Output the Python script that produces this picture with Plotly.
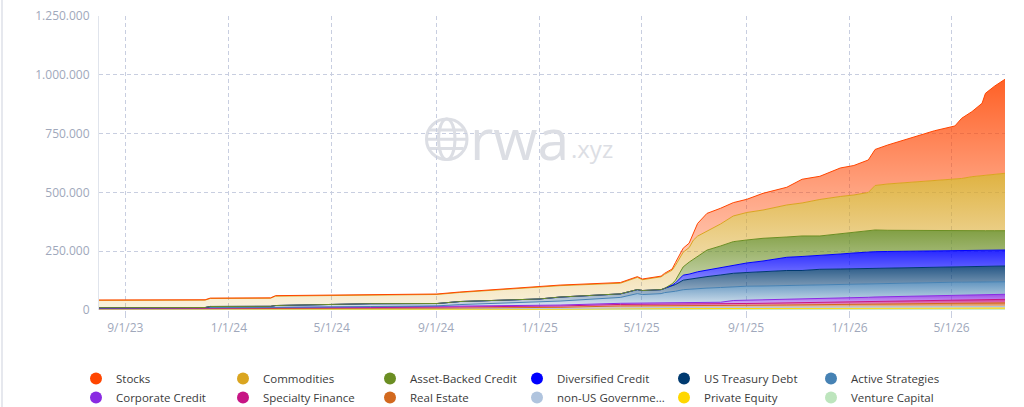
import plotly.graph_objects as go

# ---------------- data (values in thousands) ----------------
dates = [
    "2023-08-01", "2023-12-04", "2023-12-10", "2024-02-19", "2024-02-25", "2024-06-16",
    "2024-09-02", "2024-09-29", "2025-01-01", "2025-01-25", "2025-04-06", "2025-04-26",
    "2025-05-02", "2025-05-24", "2025-05-28", "2025-06-06", "2025-06-10", "2025-06-19",
    "2025-06-26", "2025-07-01", "2025-07-06", "2025-07-17", "2025-08-02", "2025-08-17",
    "2025-09-02", "2025-09-21", "2025-10-19", "2025-11-06", "2025-11-27", "2025-12-21",
    "2026-01-06", "2026-01-23", "2026-01-31", "2026-02-15", "2026-03-06", "2026-03-23",
    "2026-04-11", "2026-05-05", "2026-05-13", "2026-05-25", "2026-06-06", "2026-06-10",
    "2026-06-21", "2026-07-03",
]

stocks = [1.5, 1.5, 1.5, 1.5, 2.0, 2.0, 2.0, 2.0, 2.5, 2.5,
          3.0, 3.0, 3.0, 3.0, 4.3, 5.0,
          12.0, 17.0, 19.0, 28.5, 54.0, 75.3, 66.8, 56.6, 56.1, 71.0,
          75.3, 100.8, 98.6, 121.2, 125.4, 138.2, 153.1, 165.8, 181.6, 197.7,
          209.6, 225.4, 256.0, 276.4, 307.0, 347.4, 374.2, 399.7]
commodities = [31.0, 31.5, 34.0, 34.5, 40.0, 38.0, 38.5, 38.5, 48.3, 48.5,
               45.3, 52.0, 46.0, 54.4, 59.5, 58.0,
               63.8, 62.5, 61.7, 80.8, 85.0, 80.8, 93.5, 109.3, 116.9, 120.3,
               136.1, 140.3, 155.2, 159.5, 160.3, 163.7, 189.2, 196.9, 203.2, 208.3,
               215.6, 219.8, 222.0, 229.6, 234.7, 236.8, 241.1, 244.1]
asset_backed = [0, 0, 0, 0, 0, 0, 0, 0, 0, 0, 0, 0, 0, 0, 0, 6.0,
                11.5, 35.3, 51.0, 57.4, 66.8, 85.0, 91.4, 99.1, 97.8, 96.5,
                86.3, 87.2, 80.8, 85.0, 86.3, 89.3, 92.3, 90.1, 88.0, 87.2,
                85.5, 84.2, 84.2, 83.3, 82.9, 82.9, 82.1, 82.1]
diversified = [0, 0, 0, 0, 0, 0, 0, 0, 0, 0, 0, 0, 0, 0, 0, 4.0,
               6.8, 21.3, 21.3, 25.5, 28.1, 27.6, 31.9, 35.3, 40.4, 44.6,
               56.1, 59.5, 60.8, 63.8, 67.2, 69.3, 70.6, 70.2, 70.2, 69.3,
               68.9, 68.9, 68.0, 68.0, 68.0, 68.0, 68.0, 68.0]
us_treasury = [1.0, 1.2, 4.7, 5.0, 7.5, 12.0, 10.0, 13.0, 14.0, 17.0,
               15.0, 17.0, 17.0, 17.0, 18.0, 24.0,
               28.5, 40.4, 42.5, 44.6, 43.4, 48.9, 53.2, 57.0, 58.3, 61.7,
               63.8, 63.8, 66.8, 65.9, 64.6, 64.6, 63.8, 64.6, 65.1, 65.5,
               65.9, 65.9, 66.8, 66.8, 66.3, 66.3, 66.8, 66.8]
active = [0.8, 0.8, 0.8, 0.8, 1.0, 2.0, 2.5, 7.0, 13.0, 17.0,
          25.0, 41.0, 37.0, 40.5, 44.5, 47.5,
          50.0, 56.0, 58.0, 58.0, 59.6, 61.3, 62.7, 58.7, 59.6, 59.5,
          60.0, 58.7, 58.7, 58.2, 58.7, 58.7, 58.2, 57.5, 56.6, 56.6,
          55.3, 55.3, 54.4, 54.5, 54.4, 54.0, 54.0, 53.5]
corporate = [1.3, 1.4, 1.4, 1.5, 1.5, 2.5, 2.7, 3.0, 3.7, 4.0,
             4.8, 4.9, 4.9, 5.0, 5.0, 5.1, 5.2, 5.3, 5.4, 5.5,
             5.6, 5.8, 6.7, 13.5, 13.9, 13.9, 14.2, 14.5, 15.1, 16.0,
             16.4, 17.2, 17.6, 17.9, 18.7, 19.0, 19.6, 20.1, 20.5, 20.7,
             21.1, 21.1, 21.2, 21.5]
specialty = [2.1, 2.2, 2.5, 2.6, 2.9, 3.5, 4.4, 4.6, 5.5, 5.7,
             6.5, 6.6, 6.6, 6.7, 6.7, 6.8, 6.8, 6.9, 7.0, 7.0,
             7.1, 7.2, 7.3, 7.5, 7.8, 8.1, 8.6, 9.0, 9.6, 10.3,
             10.8, 11.3, 11.7, 12.0, 12.4, 12.8, 13.3, 13.7, 14.0, 14.2,
             14.4, 14.5, 14.7, 14.8]
real_estate = [1.7, 1.8, 2.2, 2.3, 2.5, 3.0, 3.5, 3.7, 4.5, 4.7,
               7.0, 7.1, 7.1, 7.2, 7.2, 7.3, 7.3, 7.4, 7.5, 7.5,
               7.6, 7.7, 7.8, 8.0, 8.4, 8.8, 9.4, 9.8, 10.4, 11.2,
               11.7, 12.3, 12.7, 13.0, 13.4, 13.7, 14.3, 14.6, 14.8, 15.0,
               15.2, 15.3, 15.4, 15.5]
non_us_gov = [1.7, 1.7, 1.8, 1.8, 1.9, 2.0, 2.2, 2.3, 3.0, 3.1,
              4.7, 4.7, 4.7, 4.7, 4.8, 4.8, 4.8, 4.9, 4.9, 4.9,
              4.9, 5.0, 5.0, 5.0, 5.1, 5.2, 5.3, 5.4, 5.5, 5.6,
              5.7, 5.8, 5.9, 6.0, 6.0, 6.1, 6.2, 6.3, 6.3, 6.4,
              6.4, 6.5, 6.5, 6.5]
private_equity = [0.8, 0.8, 0.9, 0.9, 1.0, 1.0, 1.2, 1.3, 1.8, 1.9,
                  3.5, 3.5, 3.5, 3.5, 3.6, 3.6, 3.6, 3.6, 3.6, 3.7,
                  3.7, 3.7, 3.7, 3.8, 3.8, 3.8, 3.9, 3.9, 4.0, 4.0,
                  4.1, 4.1, 4.1, 4.2, 4.2, 4.3, 4.3, 4.4, 4.4, 4.4,
                  4.5, 4.5, 4.5, 4.5]
venture = [0.6, 0.6, 0.7, 0.7, 0.7, 0.8, 1.0, 1.1, 1.5, 1.6,
           2.0, 2.0, 2.0, 2.1, 2.1, 2.2, 2.2, 2.3, 2.3, 2.3,
           2.4, 2.4, 2.5, 2.6, 2.6, 2.7, 2.8, 2.9, 3.0, 3.1,
           3.2, 3.3, 3.3, 3.4, 3.5, 3.6, 3.7, 3.8, 3.8, 3.9,
           3.9, 4.0, 4.0, 4.0]

# legend order (top of stack first)
series_names = ["Stocks", "Commodities", "Asset-Backed Credit", "Diversified Credit",
                "US Treasury Debt", "Active Strategies", "Corporate Credit",
                "Specialty Finance", "Real Estate", "non-US Governme...",
                "Private Equity", "Venture Capital"]
series_values = [stocks, commodities, asset_backed, diversified, us_treasury, active,
                 corporate, specialty, real_estate, non_us_gov, private_equity, venture]
series_colors = ["#FF4500", "#DAA520", "#6B8E23", "#0000FF", "#003A70", "#4682B4",
                 "#8A2BE2", "#C71585", "#D2691E", "#B0C4DE", "#FFD700", "#BDE5BD"]

tick_dates = ["2023-09-01", "2024-01-01", "2024-05-01", "2024-09-01", "2025-01-01",
              "2025-05-01", "2025-09-01", "2026-01-01", "2026-05-01"]
tick_labels = ["9/1/23", "1/1/24", "5/1/24", "9/1/24", "1/1/25", "5/1/25",
               "9/1/25", "1/1/26", "5/1/26"]
y_ticks = [0, 250000, 500000, 750000, 1000000, 1250000]

for v in series_values:
    assert len(v) == len(dates)


def rgba(hx, a):
    hx = hx.lstrip("#")
    r, g, b = int(hx[0:2], 16), int(hx[2:4], 16), int(hx[4:6], 16)
    return f"rgba({r},{g},{b},{a})"


fig = go.Figure()

# stacked areas, bottom first
for name, vals, col in reversed(list(zip(series_names, series_values, series_colors))):
    fig.add_trace(go.Scatter(
        x=dates, y=[v * 1000 for v in vals], name=name, stackgroup="rwa",
        mode="lines", line=dict(color=col, width=1),
        fillgradient=dict(type="vertical",
                          colorscale=[[0, rgba(col, 0.15)], [1, rgba(col, 0.85)]]),
        showlegend=False, hoverinfo="skip",
    ))

# legend entries with round markers
for name, col in zip(series_names, series_colors):
    fig.add_trace(go.Scatter(
        x=[None], y=[None], mode="markers", name=name,
        marker=dict(size=12, color=col), showlegend=True,
    ))

W_PLOT, H_PLOT = 906.0, 294.0
L, B = 99.0, 310.0


def px(xp):
    return (xp - L) / W_PLOT


def py(yp):
    return (B - yp) / H_PLOT


wm = "#dcdee4"
shapes = [
    # globe watermark
    dict(type="circle", xref="paper", yref="paper", x0=px(426.5), x1=px(467), y0=py(159.5),
         y1=py(119), line=dict(color=wm, width=3), layer="below"),
    dict(type="circle", xref="paper", yref="paper", x0=px(438.5), x1=px(455), y0=py(159.5),
         y1=py(119), line=dict(color=wm, width=3), layer="below"),
    dict(type="line", xref="paper", yref="paper", x0=px(426.5), x1=px(467), y0=py(139.3),
         y1=py(139.3), line=dict(color=wm, width=3), layer="below"),
    dict(type="line", xref="paper", yref="paper", x0=px(430), x1=px(463.5), y0=py(130),
         y1=py(130), line=dict(color=wm, width=3), layer="below"),
    dict(type="line", xref="paper", yref="paper", x0=px(430), x1=px(463.5), y0=py(148.6),
         y1=py(148.6), line=dict(color=wm, width=3), layer="below"),
    # page edge
    dict(type="line", xref="paper", yref="paper", x0=px(2), x1=px(2), y0=py(407), y1=py(0),
         line=dict(color="#e6e8ee", width=2)),
]

annotations = [
    dict(text="rwa", xref="paper", yref="paper", x=px(468), y=py(138), xanchor="left",
         yanchor="middle", showarrow=False,
         font=dict(family="Open Sans", size=57, color=wm)),
    dict(text=".xyz", xref="paper", yref="paper", x=px(569), y=py(148), xanchor="left",
         yanchor="middle", showarrow=False,
         font=dict(family="Open Sans", size=24, color=wm)),
]

grid_col = "#c8cee0"
tick_font = dict(family="Open Sans", size=12, color="#a0a8bb")

fig.update_layout(
    width=1024, height=407,
    margin=dict(l=99, r=19, t=16, b=97, autoexpand=False),
    paper_bgcolor="white", plot_bgcolor="white",
    separators=",.",
    showlegend=True,
    legend=dict(orientation="h", x=px(76), y=py(364), xanchor="left", yanchor="top",
                entrywidth=102, entrywidthmode="pixels", traceorder="normal",
                tracegroupgap=0,
                font=dict(family="Open Sans", size=11.5, color="#3a3a3a"),
                itemsizing="constant", bgcolor="rgba(0,0,0,0)"),
    shapes=shapes,
    annotations=annotations,
    xaxis=dict(
        type="date", range=[dates[0], dates[-1]],
        tickmode="array", tickvals=tick_dates, ticktext=tick_labels,
        showgrid=True, gridcolor=grid_col, griddash="4px,3px", gridwidth=1,
        ticks="outside", ticklen=7, tickcolor=grid_col,
        showline=False, zeroline=False, tickfont=tick_font,
    ),
    yaxis=dict(
        range=[0, 1250000], tickmode="array", tickvals=y_ticks, tickformat=",d",
        showgrid=True, gridcolor=grid_col, griddash="4px,3px", gridwidth=1,
        showline=True, linecolor="#e0e4ec", linewidth=1,
        zeroline=False, tickfont=tick_font, ticks="", ticklabelstandoff=6,
    ),
)

fig.write_html("out.html")
